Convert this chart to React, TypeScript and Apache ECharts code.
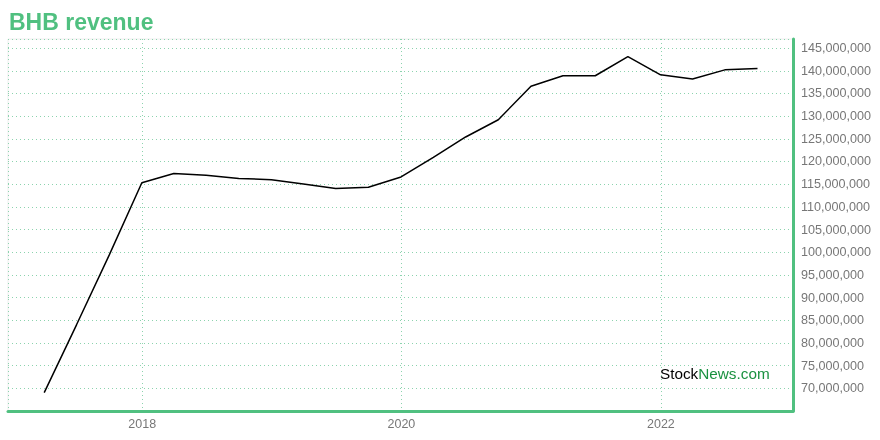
import React, { useEffect, useRef } from "react";
import * as echarts from "echarts";

const dates = [
  "2017-03-31", "2017-06-30", "2017-09-30", "2017-12-31",
  "2018-03-31", "2018-06-30", "2018-09-30", "2018-12-31",
  "2019-03-31", "2019-06-30", "2019-09-30", "2019-12-31",
  "2020-03-31", "2020-06-30", "2020-09-30", "2020-12-31",
  "2021-03-31", "2021-06-30", "2021-09-30", "2021-12-31",
  "2022-03-31", "2022-06-30", "2022-09-30",
];
const revenue = [
  69060000, 84000000, 99350000, 115300000,
  117350000, 116970000, 116250000, 116000000,
  115040000, 114060000, 114340000, 116600000,
  120900000, 125400000, 129200000, 136600000,
  138900000, 138900000, 143100000, 139100000,
  138200000, 140200000, 140500000,
];
const xMin = "2016-12-19";
const xMax = "2023-01-08";
const yMin = 65000000;
const yMax = 147000000;
const yStep = 5000000;
const title = "BHB revenue";

const GREEN = "#50c080";
const GRID_GREEN = "#8cd3ae";
const FONT = "'Liberation Sans', Arial, Helvetica, sans-serif";

export default function App() {
  const ref = useRef<HTMLDivElement>(null);
  useEffect(() => {
    if (!ref.current) return;
    const chart = echarts.init(ref.current, null, { renderer: "svg" });
    const twoYears = 2 * 365.25 * 24 * 3600 * 1000;
    const gridLine = { show: true, lineStyle: { color: GRID_GREEN, type: [1, 3], width: 1 } };
    chart.setOption({
      animation: false,
      textStyle: { fontFamily: FONT },
      title: {
        text: title,
        left: 4,
        top: 5,
        textStyle: { color: GREEN, fontSize: 23, fontWeight: "bold", fontFamily: FONT },
      },
      grid: {
        left: 8,
        right: 87,
        top: 39,
        bottom: 29,
        show: true,
        borderColor: "#eeeeee",
        borderWidth: 1,
        containLabel: false,
      },
      xAxis: {
        type: "time",
        min: xMin,
        max: xMax,
        splitNumber: 3,
        minInterval: twoYears,
        maxInterval: twoYears,
        axisLine: { show: true, lineStyle: { color: GREEN, width: 3 } },
        axisTick: { show: false },
        axisLabel: {
          color: "#777777",
          fontSize: 12.5,
          margin: 6,
          fontFamily: FONT,
          formatter: (v: number) => String(new Date(v).getFullYear()),
        },
        splitLine: gridLine,
      },
      yAxis: {
        type: "value",
        position: "right",
        min: yMin,
        max: yMax,
        interval: yStep,
        axisLine: { show: true, lineStyle: { color: GREEN, width: 3 } },
        axisTick: { show: false },
        axisLabel: {
          color: "#777777",
          fontSize: 12.6,
          margin: 8,
          fontFamily: FONT,
          formatter: (v: number) =>
            v < 70000000 || v % yStep !== 0 ? "" : v.toLocaleString("en-US"),
        },
        splitLine: gridLine,
      },
      graphic: [
        {
          type: "text",
          left: 660,
          top: 366,
          style: {
            text: "{a|Stock}{b|News.com}",
            rich: {
              a: { fill: "#000000", fontSize: 15.3, fontFamily: FONT },
              b: { fill: "#1a9140", fontSize: 15.3, fontFamily: FONT },
            },
          },
          z: 100,
        },
      ],
      series: [
        {
          type: "line",
          data: dates.map((d, i) => [d, revenue[i]]),
          showSymbol: false,
          symbol: "none",
          lineStyle: { color: "#000000", width: 1.5 },
          z: 10,
        },
      ],
    });
    return () => chart.dispose();
  }, []);
  return (
    <div
      ref={ref}
      style={{ position: "fixed", left: 0, top: 0, width: 880, height: 440 }}
    />
  );
}
